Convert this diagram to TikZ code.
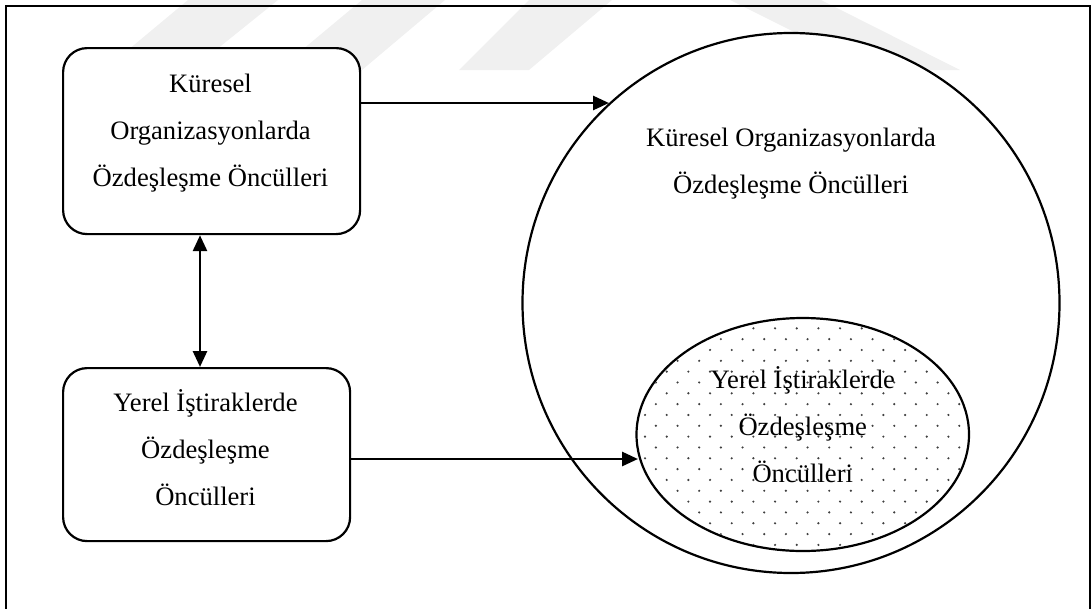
\documentclass[tikz,border=0pt]{standalone}
\usepackage{fontspec}
\setmainfont{Liberation Serif}
\usetikzlibrary{arrows.meta,shapes.geometric}

\tikzset{
  frameline/.style={draw=black, line width=2pt},
  wmark/.style={fill=black!6},
  pbox/.style={draw=black, line width=2.2pt, rounded corners=24pt, fill=white,
               inner sep=0pt, anchor=north west},
  lbl/.style={font=\fontsize{26.6}{47}\selectfont, align=center, anchor=base, inner sep=0pt},
  bigset/.style={draw=black, line width=2.2pt, ellipse, fill=white, inner sep=0pt},
  dotc/.style={fill=black!75},
  conn/.style={line width=2.8pt, -{Triangle[length=16pt,width=14pt]}},
  biconn/.style={line width=2.8pt, {Triangle[length=16pt,width=14pt]}-{Triangle[length=16pt,width=14pt]}},
}

\begin{document}
\begin{tikzpicture}[x=1pt,y=-1pt]
\useasboundingbox (0,0) rectangle (1091,608);
\clip (0,0) rectangle (1091,608);

% faint background watermark stripes
\fill[wmark] (104,70) -- (191,70) -- (278,0) -- (188,0) -- cycle;
\fill[wmark] (278,70) -- (362,70) -- (445,0) -- (362,0) -- cycle;
\fill[wmark] (459,70) -- (529,70) -- (612,0) -- (529,0) -- cycle;
\fill[wmark] (730,0) -- (821,0) -- (960,70) -- (870,70) -- cycle;

% outer frame
\draw[frameline] (6,6) rectangle (1090,640);

% left boxes
\node[pbox, minimum width=297pt, minimum height=186pt] (topbox) at (62,47) {};
\node[pbox, minimum width=287pt, minimum height=173pt] (botbox) at (62,367) {};

% multi-line labels are placed by the baseline of their last line
\node[lbl] (toptext) at (210.5,186.7) {Küresel\\Organizasyonlarda\\Özdeşleşme Öncülleri};
\node[lbl] (bottext) at (205.5,505.5) {Yerel İştiraklerde\\Özdeşleşme\\Öncülleri};

% right: global set containing the local set
\node[bigset, minimum width=537pt, minimum height=540pt] (outer) at (791,303) {};
\node[bigset, minimum width=332.5pt, minimum height=233pt] (inner) at (802.75,434.5) {};

% dotted fill of the local set
\begin{scope}
  \clip (802.75,434.5) ellipse [x radius=165pt, y radius=115.5pt];
  \foreach \j in {-9,...,15}{
    \foreach \i in {-7,...,14}{
      \pgfmathsetmacro\xx{666.7+21.67*\i-10.83*mod(abs(\j),2)}
      \pgfmathsetmacro\yy{393.3+10.83*\j}
      \fill[dotc] (\xx,\yy) circle (1.2pt);
    }
  }
\end{scope}

\node[lbl] (outertext) at (791,193) {Küresel Organizasyonlarda\\Özdeşleşme Öncülleri};
\node[lbl] (innertext) at (802.75,482) {Yerel İştiraklerde\\Özdeşleşme\\Öncülleri};

% connectors
\coordinate (arrA) at (609,103);
\coordinate (arrB) at (638,459);
\coordinate (vx) at (200,0);
\draw[conn] (topbox.east |- arrA) -- (arrA);
\draw[conn] (botbox.east |- arrB) -- (arrB);
\draw[biconn] (topbox.south -| vx) -- (botbox.north -| vx);
\end{tikzpicture}
\end{document}
